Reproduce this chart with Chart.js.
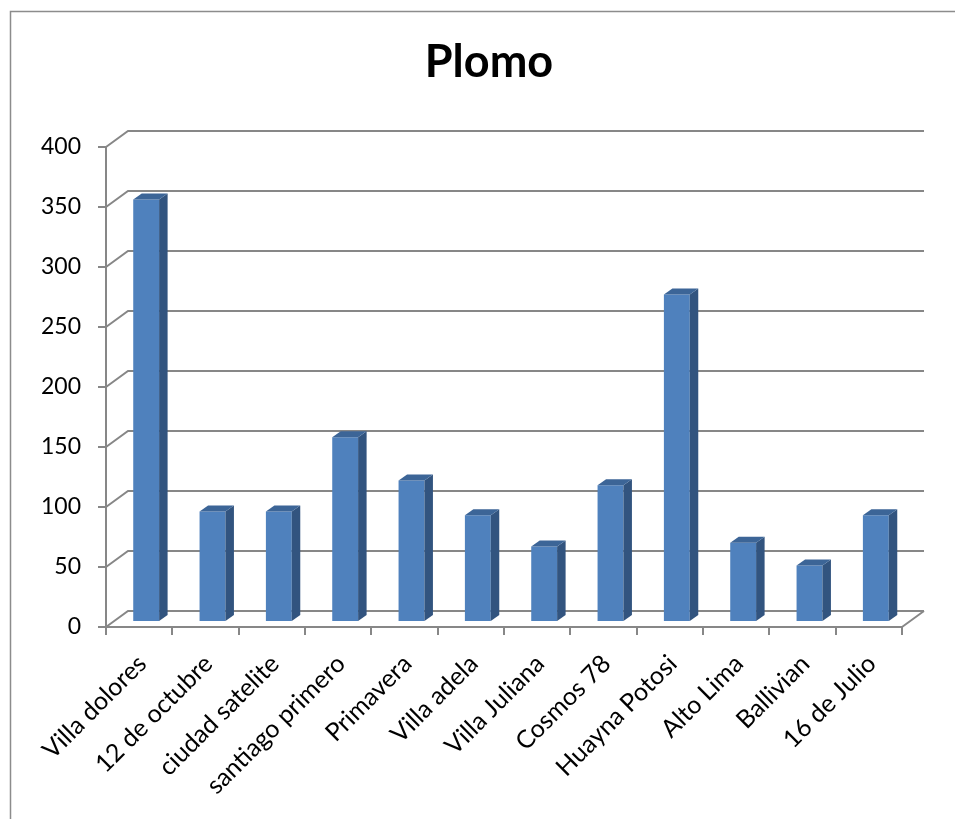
<!DOCTYPE html>
<html>
<head>
<meta charset="utf-8">
<script src="https://cdn.jsdelivr.net/npm/chart.js@4/dist/chart.umd.min.js"></script>
<style>
  html, body { margin: 0; padding: 0; background: #ffffff; }
  #wrap { width: 955px; height: 819px; }
</style>
</head>
<body>
<div id="wrap"><canvas id="c" width="955" height="819"></canvas></div>
<script>
// Lead measurements per neighbourhood
const barrios = [
  "Villa dolores", "12 de octubre", "ciudad satelite", "santiago primero",
  "Primavera", "Villa adela", "Villa Juliana", "Cosmos 78",
  "Huayna Potosi", "Alto Lima", "Ballivian", "16 de Julio"
];
const plomo = [352, 92, 92, 154, 118, 89, 63, 114, 273, 66, 47, 89];
const yTicks = [0, 50, 100, 150, 200, 250, 300, 350, 400];
const titulo = "Plomo";

const GRID = "#878787";
const FRONT = "#4f81bd";
const SIDE = "#32547f";
const TOP = "#3c6597";

// depth offsets for the pseudo-3D look
const WALL = { dx: 22, dy: -16 };   // back wall relative to the axis plane
const BARS = { dx: 7, dy: -5 };     // bar front faces relative to the axis plane
const DEPTH = { dx: 8.5, dy: -6 };  // bar thickness

const frame3d = {
  id: "frame3d",
  beforeDraw(chart) {
    const ctx = chart.ctx;
    ctx.save();
    ctx.strokeStyle = "#8c8c8c";
    ctx.lineWidth = 1.5;
    ctx.beginPath();
    ctx.moveTo(10.5, 819);
    ctx.lineTo(10.5, 11.5);
    ctx.lineTo(955, 11.5);
    ctx.stroke();
    // chart title
    ctx.fillStyle = "#000000";
    ctx.font = "bold 45px Lato";
    ctx.textAlign = "center";
    ctx.textBaseline = "alphabetic";
    ctx.fillText(titulo, 489, 77);
    ctx.restore();
  },
  beforeDatasetsDraw(chart) {
    const ctx = chart.ctx;
    const y = chart.scales.y;
    const area = chart.chartArea;
    ctx.save();
    ctx.strokeStyle = GRID;
    ctx.lineWidth = 2;
    ctx.beginPath();
    yTicks.forEach(v => {
      const py = y.getPixelForValue(v);
      ctx.moveTo(area.left, py);
      ctx.lineTo(area.left + WALL.dx, py + WALL.dy);
      ctx.lineTo(area.right + WALL.dx, py + WALL.dy);
    });
    const py0 = y.getPixelForValue(0);
    ctx.moveTo(area.right, py0);
    ctx.lineTo(area.right + WALL.dx, py0 + WALL.dy);
    ctx.stroke();
    ctx.restore();
    // shift bars back into the floor
    ctx.save();
    ctx.translate(BARS.dx, BARS.dy);
  },
  afterDatasetsDraw(chart) {
    const ctx = chart.ctx;
    const meta = chart.getDatasetMeta(0);
    meta.data.forEach(bar => {
      const { x, y, base, width } = bar.getProps(["x", "y", "base", "width"], true);
      const l = x - width / 2, r = x + width / 2;
      // side face
      ctx.fillStyle = SIDE;
      ctx.beginPath();
      ctx.moveTo(r, y);
      ctx.lineTo(r + DEPTH.dx, y + DEPTH.dy);
      ctx.lineTo(r + DEPTH.dx, base + DEPTH.dy);
      ctx.lineTo(r, base);
      ctx.closePath();
      ctx.fill();
      // top face
      ctx.fillStyle = TOP;
      ctx.beginPath();
      ctx.moveTo(l, y);
      ctx.lineTo(l + DEPTH.dx, y + DEPTH.dy);
      ctx.lineTo(r + DEPTH.dx, y + DEPTH.dy);
      ctx.lineTo(r, y);
      ctx.closePath();
      ctx.fill();
    });
    ctx.restore();
  }
};

new Chart(document.getElementById("c"), {
  type: "bar",
  data: {
    labels: barrios,
    datasets: [{
      label: titulo,
      data: plomo,
      backgroundColor: FRONT,
      borderWidth: 0,
      categoryPercentage: 1,
      barPercentage: 0.39
    }]
  },
  options: {
    responsive: false,
    animation: false,
    layout: { padding: { left: 0, right: 53, top: 147, bottom: 0 } },
    plugins: {
      legend: { display: false },
      tooltip: { enabled: false },
      title: { display: false }
    },
    scales: {
      y: {
        min: 0,
        max: 400,
        afterFit(scale) { scale.width = 106; },
        ticks: {
          stepSize: 50,
          color: "#000000",
          padding: 17,
          font: { family: "Lato", size: 23 }
        },
        grid: { drawOnChartArea: false, color: GRID, lineWidth: 2, tickLength: 8 },
        border: { display: true, color: GRID, width: 2 }
      },
      x: {
        afterFit(scale) { scale.height = 192; },
        ticks: {
          color: "#000000",
          minRotation: 45,
          maxRotation: 45,
          autoSkip: false,
          labelOffset: 3,
          padding: 14,
          font: { family: "Lato", size: 25 }
        },
        grid: { drawOnChartArea: false, color: GRID, lineWidth: 2, tickLength: 8, offset: true },
        border: { display: true, color: GRID, width: 2 }
      }
    }
  },
  plugins: [frame3d]
});
</script>
</body>
</html>
